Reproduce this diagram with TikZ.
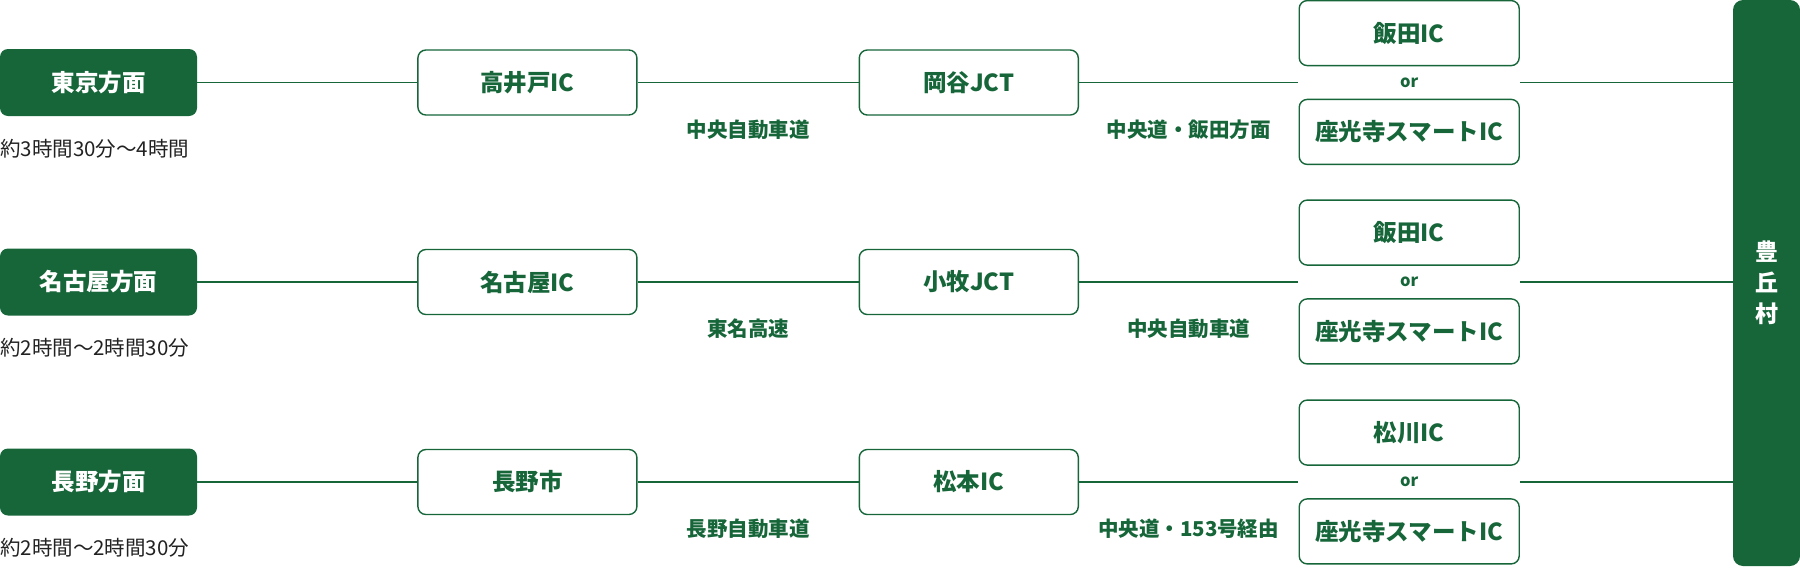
\documentclass[tikz,border=0pt]{standalone}
\usepackage{fontspec}
\setmainfont{Noto Sans CJK JP}
\usetikzlibrary{positioning}
\definecolor{roadgreen}{HTML}{16663A}
\definecolor{timegray}{HTML}{222222}

\begin{document}
\begin{tikzpicture}[
    x=1pt, y=1pt,
    font=\bfseries\fontsize{23.5}{27}\selectfont,
    startbox/.style={fill=roadgreen, text=white, rounded corners=8pt, minimum width=197pt, minimum height=67pt, inner sep=0pt},
    icbox/.style={draw=roadgreen, line width=1.4pt, text=roadgreen, rounded corners=8pt, minimum width=219pt, minimum height=65pt, inner sep=0pt},
    exitbox/.style={icbox, minimum width=220pt},
    orlabel/.style={text=roadgreen, minimum width=222pt, minimum height=32pt, inner sep=0pt, font=\bfseries\fontsize{16.5}{18}\selectfont},
    roadlabel/.style={text=roadgreen, inner sep=0pt, font=\bfseries\fontsize{20.5}{24}\selectfont},
    timelabel/.style={text=timegray, anchor=west, inner sep=0pt, font=\fontsize{20.5}{24}\selectfont},
    barbox/.style={fill=roadgreen, text=white, rounded corners=10pt, minimum width=67pt, minimum height=566pt, inner sep=0pt, align=center, font=\bfseries\fontsize{23}{31}\selectfont},
    roadline/.style={draw=roadgreen, line width=1.4pt}
]
\useasboundingbox (0,0) rectangle (1800,-568);

\node[barbox] (toyooka) at (1766.5,-283) {豊\\丘\\村};

\node[startbox] (tokyo) at (98.5,-82.5) {東京方面};
\node[timelabel] (tokyotime) at (0,-149) {約3時間30分〜4時間};
\node[icbox, right=220pt of tokyo] (takaido) {高井戸IC};
\node[icbox, right=221pt of takaido] (okaya) {岡谷JCT};
\node[orlabel, right=219pt of okaya] (or1) {or};
\node[exitbox, above=0pt of or1] (iida1) {飯田IC};
\node[exitbox, below=0pt of or1] (zakoji1) {座光寺スマートIC};

\node[startbox] (nagoya) at (98.5,-282) {名古屋方面};
\node[timelabel] (nagoyatime) at (0,-348) {約2時間〜2時間30分};
\node[icbox, right=220pt of nagoya] (nagoyaic) {名古屋IC};
\node[icbox, right=221pt of nagoyaic] (komaki) {小牧JCT};
\node[orlabel, right=219pt of komaki] (or2) {or};
\node[exitbox, above=0pt of or2] (iida2) {飯田IC};
\node[exitbox, below=0pt of or2] (zakoji2) {座光寺スマートIC};

\node[startbox] (nagano) at (98.5,-482) {長野方面};
\node[timelabel] (naganotime) at (0,-548) {約2時間〜2時間30分};
\node[icbox, right=220pt of nagano] (naganoshi) {長野市};
\node[icbox, right=221pt of naganoshi] (matsumoto) {松本IC};
\node[orlabel, right=219pt of matsumoto] (or3) {or};
\node[exitbox, above=0pt of or3] (matsukawa) {松川IC};
\node[exitbox, below=0pt of or3] (zakoji3) {座光寺スマートIC};

\draw[roadline] (tokyo) -- (takaido);
\draw[roadline] (takaido) -- node[roadlabel, yshift=-47pt] (chuo1) {中央自動車道} (okaya);
\draw[roadline] (okaya) -- node[roadlabel, yshift=-47pt] (iidaroute) {中央道・飯田方面} (or1);
\draw[roadline] (or1) -- (or1 -| toyooka.west);

\draw[roadline] (nagoya) -- (nagoyaic);
\draw[roadline] (nagoyaic) -- node[roadlabel, yshift=-47pt] (tomei) {東名高速} (komaki);
\draw[roadline] (komaki) -- node[roadlabel, yshift=-47pt] (chuo2) {中央自動車道} (or2);
\draw[roadline] (or2) -- (or2 -| toyooka.west);

\draw[roadline] (nagano) -- (naganoshi);
\draw[roadline] (naganoshi) -- node[roadlabel, yshift=-47pt] (naganodo) {長野自動車道} (matsumoto);
\draw[roadline] (matsumoto) -- node[roadlabel, yshift=-47pt] (route153) {中央道・153号経由} (or3);
\draw[roadline] (or3) -- (or3 -| toyooka.west);

\end{tikzpicture}
\end{document}
